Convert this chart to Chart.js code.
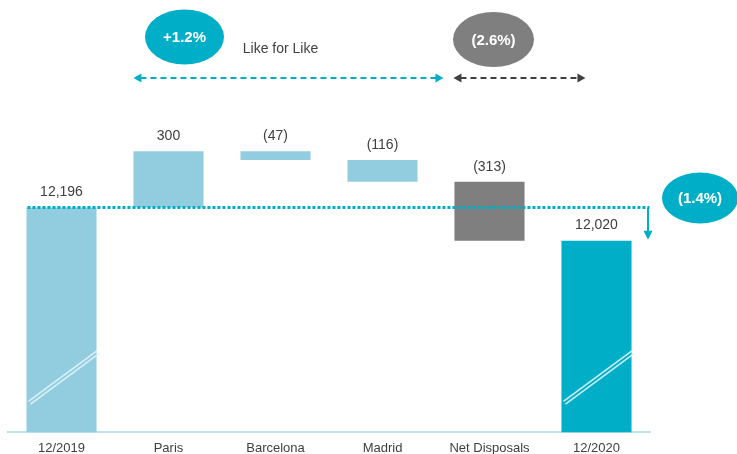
<!DOCTYPE html>
<html><head><meta charset="utf-8">
<script src="https://cdn.jsdelivr.net/npm/chart.js@4"></script>
<style>html,body{margin:0;padding:0;background:#fff}#wrap{width:737px;height:454px;position:relative}</style>
</head><body><div id="wrap"><canvas id="c"></canvas></div>
<script>
const categories = ['12/2019', 'Paris', 'Barcelona', 'Madrid', 'Net Disposals', '12/2020'];
const startValue = 12196;
const changes = [300, -47, -116, -313];
const endValue = 12020;
const axisMin = 11000;
const axisMax = 12800;
const lflLabel = '+1.2%';
const disposalLabel = '(2.6%)';
const totalLabel = '(1.4%)';
const sectionLabel = 'Like for Like';
const barColors = ['#92CDDF', '#92CDDF', '#92CDDF', '#92CDDF', '#7F7F7F', '#00AEC7'];

const FONT = '"Liberation Sans", Arial, sans-serif';
const TEXT = '#404040';
const TEAL = '#00AEC7';

// build floating bars for the waterfall
const floating = [[axisMin, startValue]];
let run = startValue;
changes.forEach(d => { floating.push([Math.min(run, run + d), Math.max(run, run + d)]); run += d; });
floating.push([axisMin, endValue]);
const fmtTotal = v => v.toLocaleString('en-US');
const fmtChange = d => d >= 0 ? String(d) : '(' + (-d) + ')';
const valueLabels = [fmtTotal(startValue), ...changes.map(fmtChange), fmtTotal(endValue)];

function arrowHead(ctx, x, y, dir, color, len, half) {
  ctx.save();
  ctx.fillStyle = color;
  ctx.beginPath();
  if (dir === 'left') { ctx.moveTo(x, y); ctx.lineTo(x + len, y - half); ctx.lineTo(x + len, y + half); }
  else if (dir === 'right') { ctx.moveTo(x, y); ctx.lineTo(x - len, y - half); ctx.lineTo(x - len, y + half); }
  else { ctx.moveTo(x, y); ctx.lineTo(x - half, y - len); ctx.lineTo(x + half, y - len); }
  ctx.closePath();
  ctx.fill();
  ctx.restore();
}
function dashedArrow(ctx, x1, x2, y, color) {
  ctx.save();
  ctx.strokeStyle = color;
  ctx.lineWidth = 2;
  ctx.setLineDash([6, 4]);
  ctx.beginPath();
  ctx.moveTo(x1 + 7, y); ctx.lineTo(x2 - 7, y);
  ctx.stroke();
  ctx.restore();
  arrowHead(ctx, x1, y, 'left', color, 8, 4.5);
  arrowHead(ctx, x2, y, 'right', color, 8, 4.5);
}
function bubble(ctx, cx, cy, rx, ry, color, text) {
  ctx.save();
  ctx.fillStyle = color;
  ctx.beginPath();
  ctx.ellipse(cx, cy, rx, ry, 0, 0, Math.PI * 2);
  ctx.fill();
  ctx.fillStyle = '#fff';
  ctx.font = 'bold 15px ' + FONT;
  ctx.textAlign = 'center';
  ctx.textBaseline = 'middle';
  ctx.fillText(text, cx, cy + 1);
  ctx.restore();
}

const deco = {
  id: 'deco',
  afterDatasetsDraw(chart) {
    const ctx = chart.ctx;
    const meta = chart.getDatasetMeta(0);
    const ys = chart.scales.y;
    const area = chart.chartArea;
    const bars = meta.data;
    const L = i => bars[i].x - bars[i].width / 2;
    const R = i => bars[i].x + bars[i].width / 2;

    // value labels
    ctx.save();
    ctx.fillStyle = TEXT;
    ctx.font = '14px ' + FONT;
    ctx.textAlign = 'center';
    ctx.textBaseline = 'middle';
    bars.forEach((b, i) => {
      const top = Math.min(b.y, b.base);
      ctx.fillText(valueLabels[i], b.x, top - 15);
    });
    ctx.restore();

    // axis break marks on total bars
    [0, bars.length - 1].forEach(i => {
      const x1 = L(i) + 2, y1 = area.bottom - 31;
      const x2 = R(i) + 1, y2 = area.bottom - 82;
      ctx.save();
      ctx.strokeStyle = 'rgba(225,244,249,0.9)';
      ctx.lineWidth = 1.6;
      for (const off of [0, 3.4]) {
        ctx.beginPath();
        ctx.moveTo(x1 + off * 0.6, y1 + off * 0.8);
        ctx.lineTo(x2 + off * 0.6, y2 + off * 0.8);
        ctx.stroke();
      }
      ctx.restore();
    });

    // dotted reference line at start value
    const yStart = ys.getPixelForValue(startValue);
    const yEnd = ys.getPixelForValue(endValue);
    const xArrow = area.right - 2;
    ctx.save();
    ctx.strokeStyle = TEAL;
    ctx.lineWidth = 3;
    ctx.setLineDash([3, 2]);
    ctx.beginPath();
    ctx.moveTo(L(0) + 1, yStart);
    ctx.lineTo(xArrow + 1.5, yStart);
    ctx.stroke();
    ctx.setLineDash([]);
    ctx.lineWidth = 2;
    ctx.beginPath();
    ctx.moveTo(xArrow, yStart);
    ctx.lineTo(xArrow, yEnd - 8);
    ctx.stroke();
    ctx.restore();
    arrowHead(ctx, xArrow, yEnd - 1, 'down', TEAL, 9, 4.5);
    bubble(ctx, area.right + 50, yStart - 9.5, 38, 25.5, TEAL, totalLabel);

    // top annotations
    const yArr = area.top - 16;
    dashedArrow(ctx, L(1), L(4) - 11, yArr, TEAL);
    dashedArrow(ctx, L(4) - 1, L(5) + 24, yArr, '#404040');
    bubble(ctx, bars[1].x + 16, area.top - 57, 39.5, 27.5, TEAL, lflLabel);
    bubble(ctx, bars[4].x + 4, area.top - 54.5, 40.5, 27.5, '#7F7F7F', disposalLabel);
    ctx.save();
    ctx.fillStyle = TEXT;
    ctx.font = '14px ' + FONT;
    ctx.textAlign = 'center';
    ctx.textBaseline = 'middle';
    ctx.fillText(sectionLabel, bars[2].x + 5, area.top - 45);
    ctx.restore();
  }
};

new Chart(document.getElementById('c'), {
  type: 'bar',
  data: {
    labels: categories,
    datasets: [{
      data: floating,
      backgroundColor: barColors,
      borderWidth: 0,
      categoryPercentage: 1,
      barPercentage: 0.655
    }]
  },
  options: {
    responsive: true,
    maintainAspectRatio: false,
    animation: false,
    devicePixelRatio: 1,
    layout: { padding: { left: 8, right: 87, top: 94, bottom: -10 } },
    plugins: { legend: { display: false }, tooltip: { enabled: false } },
    scales: {
      x: {
        grid: { display: false, drawTicks: false },
        border: { display: true, color: '#BFE2EC', width: 2 },
        ticks: { color: TEXT, font: { size: 13, family: FONT }, padding: 8, maxRotation: 0 }
      },
      y: { display: false, min: axisMin, max: axisMax }
    }
  },
  plugins: [deco]
});
</script>
</body></html>
